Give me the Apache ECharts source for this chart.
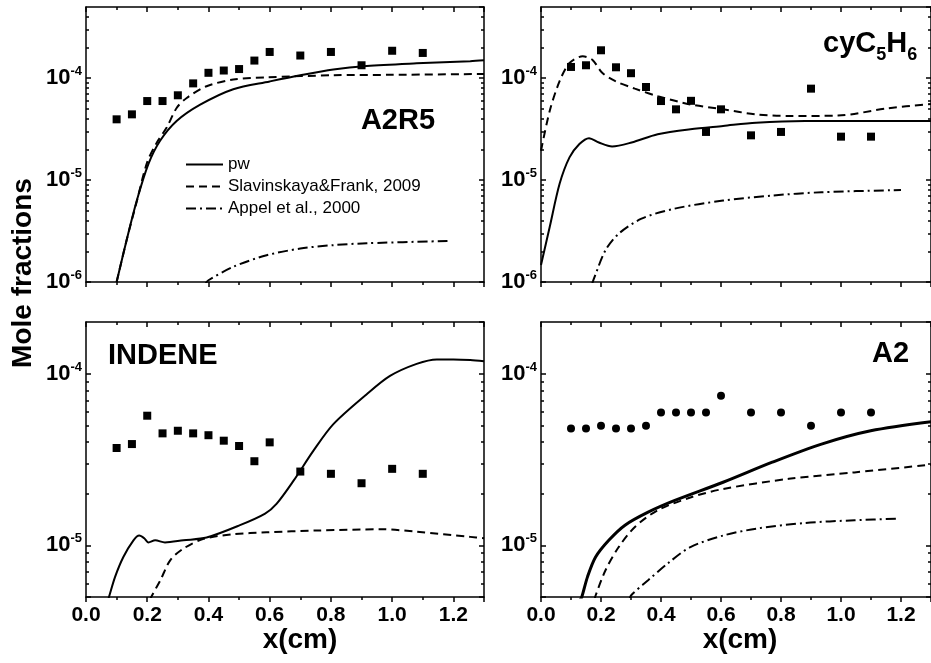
<!DOCTYPE html>
<html>
<head>
<meta charset="utf-8">
<script src="https://cdn.jsdelivr.net/npm/echarts@6/dist/echarts.min.js"></script>
<style>html,body{margin:0;padding:0;background:#fff}#c{width:931px;height:663px}</style>
</head>
<body>
<div id="c"></div>
<script>
// ---------- DATA ----------
const expX = [0.1,0.15,0.2,0.25,0.3,0.35,0.4,0.45,0.5,0.55,0.6,0.7,0.8,0.9,1.0,1.1];
const xTickLabels = ['0.0','0.2','0.4','0.6','0.8','1.0','1.2'];

// A2R5
const a2r5Exp = [3.95e-5,4.42e-5,5.97e-5,5.97e-5,6.8e-5,8.9e-5,1.13e-4,1.19e-4,1.23e-4,1.49e-4,1.81e-4,1.67e-4,1.81e-4,1.34e-4,1.86e-4,1.77e-4];
const a2r5Pw = [[0.1,1.0e-6],[0.133,2.6e-6],[0.166,6.3e-6],[0.204,1.44e-5],[0.242,2.43e-5],[0.296,3.8e-5],[0.373,5.5e-5],[0.481,7.8e-5],[0.6,9.3e-5],[0.7,1.07e-4],[0.808,1.22e-4],[0.917,1.32e-4],[1.08,1.4e-4],[1.255,1.47e-4],[1.3,1.5e-4]];
const a2r5Slav = [[0.1,1.0e-6],[0.133,2.6e-6],[0.166,6.2e-6],[0.2,1.5e-5],[0.232,2.35e-5],[0.264,3.3e-5],[0.296,5.1e-5],[0.329,6.4e-5],[0.394,8.35e-5],[0.481,9.7e-5],[0.59,1.02e-4],[0.81,1.07e-4],[1.0,1.08e-4],[1.3,1.1e-4]];
const a2r5Appel = [[0.39,0.96e-6],[0.4,1.04e-6],[0.481,1.41e-6],[0.59,1.83e-6],[0.7,2.13e-6],[0.808,2.3e-6],[0.917,2.4e-6],[1.19,2.53e-6]];

// cyC5H6
const cycExp = [1.29e-4,1.34e-4,1.88e-4,1.28e-4,1.12e-4,8.2e-5,5.97e-5,4.95e-5,6.0e-5,2.97e-5,4.95e-5,2.75e-5,2.97e-5,7.9e-5,2.67e-5,2.67e-5];
const cycPw = [[0,1.47e-6],[0.029,3.47e-6],[0.062,9.2e-6],[0.095,1.67e-5],[0.128,2.26e-5],[0.16,2.58e-5],[0.193,2.34e-5],[0.237,2.14e-5],[0.302,2.34e-5],[0.389,2.82e-5],[0.498,3.16e-5],[0.607,3.4e-5],[0.717,3.66e-5],[0.88,3.8e-5],[1.3,3.8e-5]];
const cycSlav = [[0,1.94e-5],[0.029,4.77e-5],[0.062,9.35e-5],[0.095,1.41e-4],[0.139,1.64e-4],[0.171,1.52e-4],[0.204,1.13e-4],[0.248,9.35e-5],[0.313,7.9e-5],[0.389,6.67e-5],[0.498,5.53e-5],[0.607,4.95e-5],[0.717,4.42e-5],[0.826,4.26e-5],[0.99,4.3e-5],[1.154,5.06e-5],[1.3,5.6e-5]];
const cycAppel = [[0.17,0.95e-6],[0.177,1.09e-6],[0.215,2.05e-6],[0.259,2.98e-6],[0.335,4.18e-6],[0.444,5.24e-6],[0.607,6.3e-6],[0.771,7.06e-6],[0.935,7.6e-6],[1.2,8.0e-6]];

// INDENE
const indExp = [3.69e-5,3.89e-5,5.69e-5,4.49e-5,4.65e-5,4.49e-5,4.38e-5,4.07e-5,3.79e-5,3.09e-5,3.98e-5,2.69e-5,2.61e-5,2.3e-5,2.79e-5,2.61e-5];
const indPw = [[0.07,4.7e-6],[0.075,5.0e-6],[0.095,6.55e-6],[0.122,8.55e-6],[0.155,1.07e-5],[0.174,1.14e-5],[0.19,1.1e-5],[0.204,1.04e-5],[0.226,1.07e-5],[0.258,1.04e-5],[0.318,1.07e-5],[0.394,1.11e-5],[0.503,1.31e-5],[0.585,1.53e-5],[0.623,1.75e-5],[0.678,2.38e-5],[0.743,3.56e-5],[0.808,5.08e-5],[0.917,7.59e-5],[0.993,9.7e-5],[1.08,1.14e-4],[1.146,1.21e-4],[1.2,1.21e-4],[1.255,1.2e-4],[1.3,1.18e-4]];
const indSlav = [[0.21,4.8e-6],[0.213,5.0e-6],[0.243,6.26e-6],[0.275,8.18e-6],[0.318,9.57e-6],[0.384,1.09e-5],[0.481,1.16e-5],[0.59,1.19e-5],[0.753,1.22e-5],[0.97,1.24e-5],[1.08,1.2e-5],[1.255,1.12e-5],[1.3,1.1e-5]];

// A2
const a2Exp = [4.8e-5,4.8e-5,4.97e-5,4.8e-5,4.8e-5,4.97e-5,5.94e-5,5.94e-5,5.94e-5,5.94e-5,7.43e-5,5.94e-5,5.94e-5,4.97e-5,5.94e-5,5.94e-5];
const a2Pw = [[0.13,4.8e-6],[0.136,5.0e-6],[0.155,6.55e-6],[0.182,8.55e-6],[0.226,1.07e-5],[0.28,1.31e-5],[0.357,1.56e-5],[0.444,1.82e-5],[0.607,2.33e-5],[0.771,3.05e-5],[0.935,3.89e-5],[1.099,4.65e-5],[1.3,5.25e-5]];
const a2Slav = [[0.178,4.8e-6],[0.182,5.1e-6],[0.215,7.16e-6],[0.259,9.77e-6],[0.313,1.28e-5],[0.389,1.6e-5],[0.498,1.9e-5],[0.607,2.13e-5],[0.826,2.44e-5],[1.045,2.66e-5],[1.3,2.95e-5]];
const a2Appel = [[0.295,4.8e-6],[0.3,5.1e-6],[0.357,6.26e-6],[0.422,7.83e-6],[0.498,9.77e-6],[0.607,1.14e-5],[0.717,1.25e-5],[0.88,1.35e-5],[1.045,1.4e-5],[1.19,1.43e-5]];

const yRanges = [[1e-6,5e-4],[1e-6,5e-4],[5e-6,2e-4],[5e-6,2e-4]];
const names = ['pw','Slavinskaya&Frank, 2009','Appel et al., 2000'];

// ---------- CHART ----------
const FONT = '"Liberation Sans", Arial, Helvetica, sans-serif';
const BLACK = '#000';
const grids = [
  {left:86, top:7, width:398, height:275},
  {left:541, top:7, width:398, height:275},
  {left:86, top:322, width:398, height:275},
  {left:541, top:322, width:398, height:275}
];

const xAxis = [], yAxis = [];
const axLine = {show:true, onZero:false, lineStyle:{color:BLACK, width:1.5}};
const tickStyle = {color:BLACK, width:1.5};

function minorLogValues(min, max) {
  const out = [];
  for (let d = Math.floor(Math.log10(min)); d <= Math.ceil(Math.log10(max)); d++) {
    for (let k = 2; k <= 9; k++) {
      const v = k * Math.pow(10, d);
      if (v > min * 1.0001 && v < max * 0.9999) out.push(Math.log10(v));
    }
  }
  return out;
}

grids.forEach((g, i) => {
  const showX = i >= 2;
  xAxis.push({
    gridIndex:i, type:'value', position:'bottom', min:0, max:1.3, interval:0.2,
    axisLine:axLine, splitLine:{show:false},
    axisTick:{show:true, inside:false, length:5, lineStyle:tickStyle},
    minorTick:{show:true, splitNumber:2, length:3, lineStyle:tickStyle},
    axisLabel:{show:showX, showMaxLabel:false, margin:8, color:BLACK,
      fontFamily:FONT, fontWeight:'bold', fontSize:21,
      formatter:(v) => { const idx = Math.round(v / 0.2); return Math.abs(v - idx*0.2) < 1e-6 ? (xTickLabels[idx] || '') : ''; }}
  });
  xAxis.push({
    gridIndex:i, type:'value', position:'top', min:0, max:1.3, interval:0.2,
    axisLine:axLine, splitLine:{show:false},
    axisTick:{show:true, inside:true, length:5, lineStyle:tickStyle},
    minorTick:{show:true, splitNumber:2, length:3, lineStyle:tickStyle},
    axisLabel:{show:false}
  });
  const [ymin, ymax] = yRanges[i];
  const labelFmt = (v) => {
    const l = Math.log10(v), e = Math.round(l);
    if (Math.abs(l - e) > 1e-6) return '';
    return '{b|10}{s|' + e + '}';
  };
  yAxis.push({
    gridIndex:i, type:'log', logBase:10, min:ymin, max:ymax, position:'left',
    axisLine:axLine, splitLine:{show:false},
    axisTick:{show:true, inside:true, length:5, lineStyle:tickStyle},
    axisLabel:{show:true, margin:4, formatter:labelFmt, showMaxLabel:false,
      rich:{
        b:{fontFamily:FONT, fontWeight:'bold', fontSize:22, color:BLACK},
        s:{fontFamily:FONT, fontWeight:'bold', fontSize:13, color:BLACK, padding:[0,0,13,0]}
      }}
  });
  yAxis.push({
    gridIndex:i, type:'log', logBase:10, min:ymin, max:ymax, position:'right',
    axisLine:axLine, splitLine:{show:false},
    axisTick:{show:true, inside:true, length:5, lineStyle:tickStyle},
    axisLabel:{show:false}
  });
  const minors = minorLogValues(ymin, ymax);
  ['left','right'].forEach(pos => {
    yAxis.push({
      gridIndex:i, type:'value', min:Math.log10(ymin), max:Math.log10(ymax), position:pos,
      axisLine:{show:false, onZero:false}, splitLine:{show:false}, axisLabel:{show:false},
      axisTick:{show:true, inside:true, length:3, lineStyle:tickStyle, customValues:minors}
    });
  });
});

const solid = {color:BLACK, width:2, type:'solid'};
const dashed = {color:BLACK, width:2, type:[8,5]};
const dashdot = {color:BLACK, width:2, type:[10,4,2,4]};

function lineSeries(name, gi, data, style) {
  return {name, type:'line', xAxisIndex:2*gi, yAxisIndex:4*gi, data, symbol:'none',
    smooth:0.3, lineStyle:style, itemStyle:{color:BLACK}, z:3, silent:true};
}
function expSeries(gi, ys, symbol) {
  return {name:'exp'+gi, type:'scatter', xAxisIndex:2*gi, yAxisIndex:4*gi,
    data: expX.map((x, k) => [x, ys[k]]), symbol, symbolSize:8,
    itemStyle:{color:BLACK, opacity:1}, z:4, silent:true};
}

const series = [
  expSeries(0, a2r5Exp, 'rect'),
  lineSeries(names[0], 0, a2r5Pw, solid),
  lineSeries(names[1], 0, a2r5Slav, dashed),
  lineSeries(names[2], 0, a2r5Appel, dashdot),
  expSeries(1, cycExp, 'rect'),
  lineSeries(names[0], 1, cycPw, solid),
  lineSeries(names[1], 1, cycSlav, dashed),
  lineSeries(names[2], 1, cycAppel, dashdot),
  expSeries(2, indExp, 'rect'),
  lineSeries(names[0], 2, indPw, solid),
  lineSeries(names[1], 2, indSlav, dashed),
  expSeries(3, a2Exp, 'circle'),
  lineSeries(names[0], 3, a2Pw, {color:BLACK, width:3, type:'solid'}),
  lineSeries(names[1], 3, a2Slav, dashed),
  lineSeries(names[2], 3, a2Appel, dashdot)
];

const bigText = {fontFamily:FONT, fontWeight:'bold', fontSize:29, fill:BLACK};

const option = {
  backgroundColor:'#fff',
  animation:false,
  grid: grids.map(g => Object.assign({containLabel:false}, g)),
  xAxis, yAxis, series,
  legend:{
    show:true, orient:'vertical', left:180, top:151, padding:5,
    itemWidth:37, itemHeight:14, itemGap:5, selectedMode:false,
    data:names,
    itemStyle:{opacity:0},
    textStyle:{fontFamily:FONT, fontSize:17, color:BLACK, lineHeight:17}
  },
  graphic:[
    {type:'text', x:398, y:121, style:Object.assign({text:'A2R5', align:'center', verticalAlign:'middle'}, bigText)},
    {type:'text', x:108, y:356, style:Object.assign({text:'INDENE', align:'left', verticalAlign:'middle'}, bigText)},
    {type:'text', x:872, y:354, style:Object.assign({text:'A2', align:'left', verticalAlign:'middle'}, bigText)},
    {type:'text', x:823, y:44, style:{text:'{m|cyC}{s|5}{m|H}{s|6}', align:'left', verticalAlign:'middle',
      rich:{
        m:{fontFamily:FONT, fontWeight:'bold', fontSize:29, fill:BLACK},
        s:{fontFamily:FONT, fontWeight:'bold', fontSize:18, fill:BLACK, padding:[22,0,0,0]}
      }}},
    {type:'text', x:23, y:273, rotation:Math.PI/2, style:{text:'Mole fractions', align:'center', verticalAlign:'middle',
      fontFamily:FONT, fontWeight:'bold', fontSize:28, fill:BLACK}},
    {type:'text', x:300, y:640, style:{text:'x(cm)', align:'center', verticalAlign:'middle',
      fontFamily:FONT, fontWeight:'bold', fontSize:28, fill:BLACK}},
    {type:'text', x:740, y:640, style:{text:'x(cm)', align:'center', verticalAlign:'middle',
      fontFamily:FONT, fontWeight:'bold', fontSize:28, fill:BLACK}}
  ]
};

const chart = echarts.init(document.getElementById('c'), null, {renderer:'canvas'});
chart.setOption(option);
</script>
</body>
</html>
